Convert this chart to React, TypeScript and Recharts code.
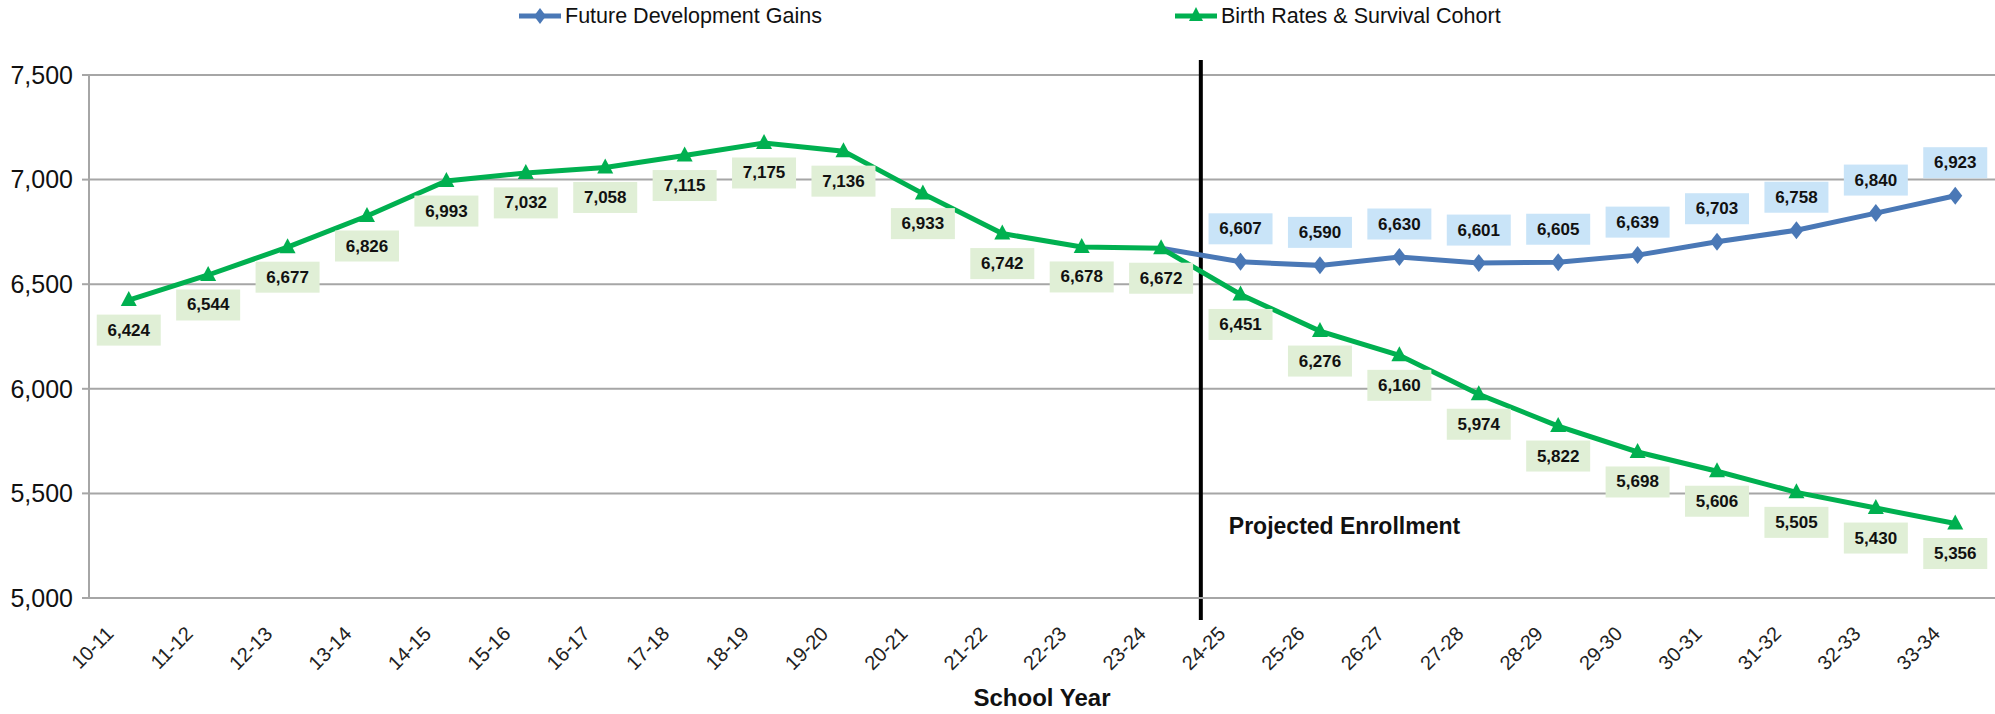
import React from 'react';
import {
  LineChart,
  Line,
  XAxis,
  YAxis,
  CartesianGrid,
  ReferenceLine,
  ReferenceDot,
  LabelList,
} from 'recharts';

const categories = [
  '10-11', '11-12', '12-13', '13-14', '14-15', '15-16', '16-17', '17-18',
  '18-19', '19-20', '20-21', '21-22', '22-23', '23-24', '24-25', '25-26',
  '26-27', '27-28', '28-29', '29-30', '30-31', '31-32', '32-33', '33-34',
];

const birthRatesSurvival = [
  6424, 6544, 6677, 6826, 6993, 7032, 7058, 7115, 7175, 7136, 6933, 6742,
  6678, 6672, 6451, 6276, 6160, 5974, 5822, 5698, 5606, 5505, 5430, 5356,
];

const futureDevelopmentGains: (number | null)[] = [
  null, null, null, null, null, null, null, null, null, null, null, null,
  null, 6672, 6607, 6590, 6630, 6601, 6605, 6639, 6703, 6758, 6840, 6923,
];

const yTicks = [5000, 5500, 6000, 6500, 7000, 7500];
const boundaryTicks = Array.from({ length: categories.length + 1 }, (_, i) => i);
const projectionStart = 14;

const data = categories.map((c, i) => ({
  year: c,
  pos: i + 0.5,
  birth: birthRatesSurvival[i],
  future: futureDevelopmentGains[i],
}));

const BLUE = '#4A78B6';
const GREEN = '#00B050';
const BLUE_BG = '#C9E4F8';
const GREEN_BG = '#E0EFD6';
const GRID = '#A6A6A6';
const FONT = '"Liberation Sans", Arial, sans-serif';

const fmt = (v: number) => v.toLocaleString('en-US');

const Triangle = (props: any) => {
  const { cx, cy, index } = props;
  if (cx == null || cy == null) return <g key={`t-${index}`} />;
  return (
    <path
      key={`t-${index}`}
      d={`M ${cx} ${cy - 9} L ${cx + 8} ${cy + 6} L ${cx - 8} ${cy + 6} Z`}
      fill={GREEN}
    />
  );
};

const Diamond = (props: any) => {
  const { cx, cy, index } = props;
  if (cx == null || cy == null || index === 13) return <g key={`d-${index}`} />;
  return (
    <path
      key={`d-${index}`}
      d={`M ${cx} ${cy - 9} L ${cx + 7} ${cy} L ${cx} ${cy + 9} L ${cx - 7} ${cy} Z`}
      fill={BLUE}
    />
  );
};

const makeLabel = (bg: string, dy: number, skip?: number) => (props: any) => {
  const { x, y, value, index } = props;
  if (value == null || index === skip) return null;
  const w = 64;
  const h = 31;
  const cy = y + dy;
  return (
    <g>
      <rect x={x - w / 2} y={cy - h / 2} width={w} height={h} fill={bg} />
      <text
        x={x}
        y={cy}
        textAnchor="middle"
        dominantBaseline="central"
        fontFamily={FONT}
        fontWeight="bold"
        fontSize={17}
        fill="#111"
      >
        {fmt(value)}
      </text>
    </g>
  );
};

const XTick = (props: any) => {
  const { x, y, payload } = props;
  const tx = x - 14;
  const ty = y + 28;
  return (
    <text
      x={tx}
      y={ty}
      transform={`rotate(-45 ${tx} ${ty})`}
      textAnchor="end"
      fontFamily={FONT}
      fontSize={20}
      fill="#222"
    >
      {payload.value}
    </text>
  );
};

const ProjectedLabel = (props: any) => {
  const { viewBox } = props;
  if (!viewBox) return null;
  return (
    <text
      x={viewBox.x + 28}
      y={viewBox.y}
      dominantBaseline="central"
      fontFamily={FONT}
      fontWeight="bold"
      fontSize={23}
      fill="#111"
    >
      Projected Enrollment
    </text>
  );
};

const LegendItem = ({ color, shape, label, left }: any) => (
  <div style={{ position: 'absolute', left, top: 3, display: 'flex', alignItems: 'center', height: 26 }}>
    <svg width={42} height={26}>
      <line x1={0} y1={13} x2={42} y2={13} stroke={color} strokeWidth={5} />
      {shape === 'diamond' ? (
        <path d="M 21 5 L 27 13 L 21 21 L 15 13 Z" fill={color} />
      ) : (
        <path d="M 21 4 L 28 18 L 14 18 Z" fill={color} />
      )}
    </svg>
    <span style={{ marginLeft: 4, fontFamily: FONT, fontSize: 21.5, color: '#111', whiteSpace: 'nowrap' }}>
      {label}
    </span>
  </div>
);

export default function App() {
  return (
    <div style={{ position: 'absolute', left: 0, top: 0, width: 1995, height: 714, background: '#fff' }}>
      <LegendItem color={BLUE} shape="diamond" label="Future Development Gains" left={519} />
      <LegendItem color={GREEN} shape="triangle" label="Birth Rates & Survival Cohort" left={1175} />
      <LineChart
        width={1995}
        height={714}
        data={data}
        margin={{ top: 75, right: 0, bottom: 0, left: 0 }}
      >
        <CartesianGrid horizontal vertical={false} stroke={GRID} strokeWidth={2} />
        <XAxis
          xAxisId="a_grid"
          dataKey="pos"
          type="number"
          scale="linear"
          domain={[0, categories.length]}
          ticks={boundaryTicks}
          allowDataOverflow
          tick={false}
          tickLine={{ stroke: GRID, strokeWidth: 2 }}
          tickSize={9}
          axisLine={{ stroke: GRID, strokeWidth: 2 }}
          height={1}
        />
        <XAxis
          xAxisId="b_cat"
          dataKey="year"
          type="category"
          interval={0}
          padding={{ left: 39.75, right: 39.75 }}
          tick={<XTick />}
          tickLine={false}
          axisLine={false}
          height={115}
          label={{
            value: 'School Year',
            position: 'insideBottom',
            offset: 8,
            style: { fontFamily: FONT, fontWeight: 'bold', fontSize: 24, fill: '#111' },
          }}
        />
        <YAxis
          domain={[5000, 7500]}
          ticks={yTicks}
          width={89}
          tickFormatter={fmt}
          tick={{ fontFamily: FONT, fontSize: 25, fill: '#111' }}
          tickLine={{ stroke: GRID, strokeWidth: 2 }}
          tickSize={7}
          tickMargin={9}
          axisLine={{ stroke: GRID, strokeWidth: 2 }}
        />
        <ReferenceLine
          xAxisId="a_grid"
          segment={[
            { x: projectionStart, y: 7572 },
            { x: projectionStart, y: 4895 },
          ]}
          stroke="#000"
          strokeWidth={4}
          ifOverflow="visible"
        />
        <ReferenceDot
          xAxisId="a_grid"
          x={projectionStart}
          y={5345}
          r={0}
          fill="none"
          stroke="none"
          ifOverflow="visible"
          label={<ProjectedLabel />}
        />
        <Line
          xAxisId="b_cat"
          dataKey="future"
          stroke={BLUE}
          strokeWidth={5}
          dot={<Diamond />}
          activeDot={false}
          connectNulls={false}
          isAnimationActive={false}
        >
          <LabelList dataKey="future" content={makeLabel(BLUE_BG, -33, 13)} />
        </Line>
        <Line
          xAxisId="b_cat"
          dataKey="birth"
          stroke={GREEN}
          strokeWidth={5}
          dot={<Triangle />}
          activeDot={false}
          isAnimationActive={false}
        >
          <LabelList dataKey="birth" content={makeLabel(GREEN_BG, 30)} />
        </Line>
      </LineChart>
    </div>
  );
}
